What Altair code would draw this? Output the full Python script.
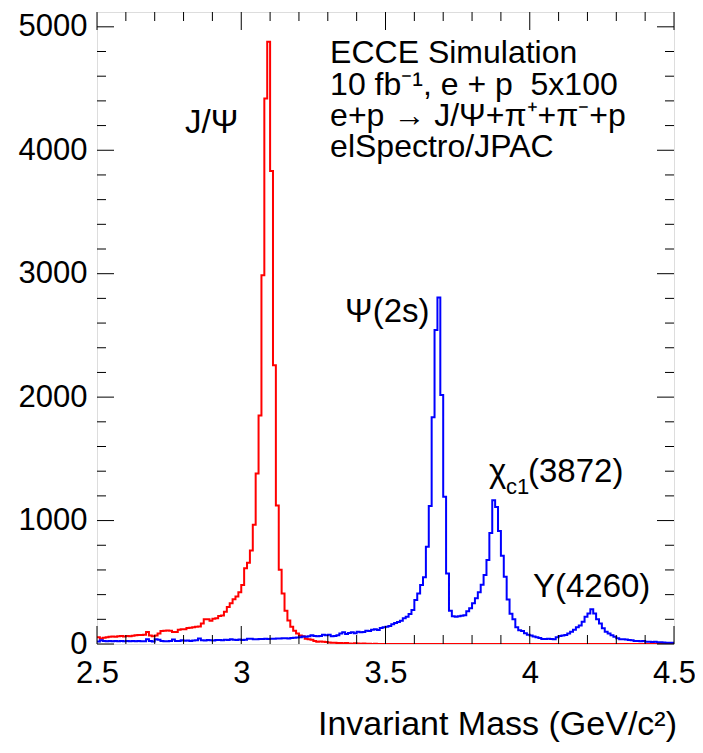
import altair as alt
import pandas as pd

# ---- histogram data (bin width 0.01 GeV from 2.50 to 4.50, 200 bins) ----
X_MIN, X_MAX, BIN_W = 2.5, 4.5, 0.01

red_counts = [
    55, 45, 50, 55, 58, 60, 58, 62, 65, 60,
    65, 62, 66, 70, 73, 73, 75, 97, 68, 62,
    68, 86, 105, 108, 110, 108, 97, 97, 115, 119,
    119, 130, 132, 135, 140, 142, 167, 200, 200, 189,
    205, 208, 227, 230, 262, 300, 330, 362, 384, 420,
    478, 613, 659, 758, 967, 1381, 1851, 2987, 4420, 4880,
    3831, 2258, 1122, 602, 410, 270, 190, 140, 108, 86,
    68, 62, 42, 38, 35, 24, 18, 20, 18, 16,
    12, 10, 11, 9, 8, 6, 8, 5, 3, 6,
    4, 2, 5, 3, 2, 0, 2, 0, 0, 0,
    0, 0, 0, 0, 0, 0, 0, 0, 0, 0,
    0, 0, 0, 0, 0, 0, 0, 0, 0, 0,
    0, 0, 0, 0, 0, 0, 0, 0, 0, 0,
    0, 0, 0, 0, 0, 0, 0, 0, 0, 0,
    0, 0, 0, 0, 0, 0, 0, 0, 0, 0,
    0, 0, 0, 0, 0, 0, 0, 0, 0, 0,
    0, 0, 0, 0, 0, 0, 0, 0, 0, 0,
    0, 0, 0, 0, 0, 0, 0, 0, 0, 0,
    0, 0, 0, 0, 0, 0, 0, 0, 0, 0,
    0, 0, 0, 0, 0, 0, 0, 0, 0, 0,
]

blue_counts = [
    20, 30, 25, 22, 24, 22, 25, 22, 24, 22,
    25, 22, 24, 22, 25, 22, 22, 38, 24, 20,
    38, 35, 24, 22, 22, 24, 36, 25, 24, 30,
    26, 28, 25, 28, 30, 45, 30, 28, 32, 30,
    28, 33, 32, 30, 35, 32, 38, 35, 33, 36,
    32, 34, 43, 43, 38, 38, 40, 40, 42, 40,
    43, 43, 45, 44, 46, 46, 45, 48, 50, 52,
    55, 60, 58, 62, 70, 65, 62, 65, 75, 70,
    75, 62, 65, 70, 86, 95, 82, 90, 95, 88,
    100, 95, 98, 108, 105, 115, 120, 113, 130, 135,
    140, 146, 160, 170, 178, 188, 208, 221, 243, 275,
    356, 410, 478, 540, 788, 1118, 1836, 2543, 2808, 2017,
    1193, 572, 270, 225, 220, 225, 228, 232, 265, 290,
    330, 370, 420, 480, 560, 680, 900, 1165, 1110, 915,
    715, 545, 360, 245, 200, 135, 112, 105, 88, 75,
    68, 60, 54, 48, 40, 40, 43, 40, 38, 54,
    65, 68, 73, 86, 100, 115, 135, 150, 181, 221,
    248, 281, 248, 200, 167, 127, 100, 86, 70, 59,
    46, 38, 38, 36, 32, 30, 24, 24, 22, 24,
    19, 19, 17, 18, 14, 14, 12, 11, 11, 10,
]

assert len(red_counts) == 200 and len(blue_counts) == 200

# axis ticks / labels
x_major = [2.5, 3.0, 3.5, 4.0, 4.5]
x_minor = [2.6, 2.7, 2.8, 2.9, 3.1, 3.2, 3.3, 3.4, 3.6, 3.7, 3.8, 3.9,
           4.1, 4.2, 4.3, 4.4]
y_major = [0, 1000, 2000, 3000, 4000, 5000]
y_minor = [200, 400, 600, 800, 1200, 1400, 1600, 1800, 2200, 2400, 2600,
           2800, 3200, 3400, 3600, 3800, 4200, 4400, 4600, 4800]
Y_MAX = 5120

info_lines = ["ECCE Simulation", "10 fb\u207b\u00b9, e + p\u00a0\u00a05x100",
              "e+p \u2192 J/\u03a8+\u03c0\u207a+\u03c0\u207b+p", "elSpectro/JPAC"]
info_y = [4707, 4448, 4196, 3945]
info_x = 3.308

x_title = "Invariant Mass (GeV/c\u00b2)"

# ---- build tables ----
def step_table(counts):
    edges = [round(X_MIN + BIN_W * i, 4) for i in range(len(counts) + 1)]
    vals = list(counts) + [counts[-1]]
    return pd.DataFrame({"m": edges, "n": vals})

W, H = 577, 632
FONT = "Liberation Sans"

xs = alt.Scale(domain=[X_MIN, X_MAX], nice=False, zero=False)
ys = alt.Scale(domain=[0, Y_MAX], nice=False, zero=False)

x_axis = alt.Axis(values=x_major, format="~g", ticks=False, domain=False, grid=False,
                  labelFont=FONT, labelFontSize=31, labelColor="black",
                  labelPadding=14, labelFlush=False, labelOverlap=False, title=None)
y_axis = alt.Axis(values=y_major, format="d", ticks=False, domain=False, grid=False,
                  labelFont=FONT, labelFontSize=31, labelColor="black",
                  labelPadding=10, labelFlush=False, labelOverlap=False, title=None)

red = alt.Chart(step_table(red_counts)).mark_line(
    interpolate="step-after", color="#ff0000", strokeWidth=2, clip=True
).encode(x=alt.X("m:Q", scale=xs, axis=x_axis), y=alt.Y("n:Q", scale=ys, axis=y_axis))

blue = alt.Chart(step_table(blue_counts)).mark_line(
    interpolate="step-after", color="#0000ff", strokeWidth=2, clip=True
).encode(x=alt.X("m:Q", scale=xs), y=alt.Y("n:Q", scale=ys))

def xticks(vals, y0, y1):
    return alt.Chart(pd.DataFrame({"v": vals})).mark_rule(color="black", strokeWidth=1).encode(
        x=alt.X("v:Q", scale=xs), y=alt.value(y0), y2=alt.value(y1))

def yticks(vals, x0, x1):
    return alt.Chart(pd.DataFrame({"v": vals})).mark_rule(color="black", strokeWidth=1).encode(
        y=alt.Y("v:Q", scale=ys), x=alt.value(x0), x2=alt.value(x1))

ticks = [
    xticks(x_major, H, H - 18), xticks(x_minor, H, H - 9),
    xticks(x_major, 0, 18), xticks(x_minor, 0, 9),
    yticks(y_major, 0, 17), yticks(y_minor, 0, 9),
    yticks(y_major, W, W - 17), yticks(y_minor, W, W - 9),
]

def label(text, x, y, size, align="left"):
    return alt.Chart(pd.DataFrame({"t": [text], "x": [x], "y": [y]})).mark_text(
        font=FONT, fontSize=size, align=align, baseline="alphabetic", color="black"
    ).encode(x=alt.X("x:Q", scale=xs), y=alt.Y("y:Q", scale=ys), text="t:N")

annotations = [
    label("J/\u03a8", 2.805, 4140, 33),
    label("\u03a8(2s)", 3.360, 2609, 33),
    label("\u03c7", 3.859, 1313, 33),
    label("c1", 3.918, 1215, 22),
    label("(3872)", 3.994, 1313, 33),
    label("Y(4260)", 4.011, 381, 33),
]
info = alt.Chart(pd.DataFrame({"t": info_lines, "y": info_y, "x": [info_x] * 4})).mark_text(
    font=FONT, fontSize=32, align="left", baseline="alphabetic", color="black"
).encode(x=alt.X("x:Q", scale=xs), y=alt.Y("y:Q", scale=ys), text="t:N")

title = alt.Chart(pd.DataFrame({"t": [x_title]})).mark_text(
    font=FONT, fontSize=34, align="right", baseline="alphabetic", color="black"
).encode(x=alt.value(W + 3), y=alt.value(H + 91), text="t:N")

chart = alt.layer(red, blue, *ticks, *annotations, info, title).properties(
    width=W, height=H,
    padding={"left": 89, "top": 4, "right": 21, "bottom": 100},
    autosize="none",
).configure_view(stroke="black", strokeWidth=1).configure(background="white")

chart.save("out.html", embed_options={"renderer": "svg", "actions": False})
